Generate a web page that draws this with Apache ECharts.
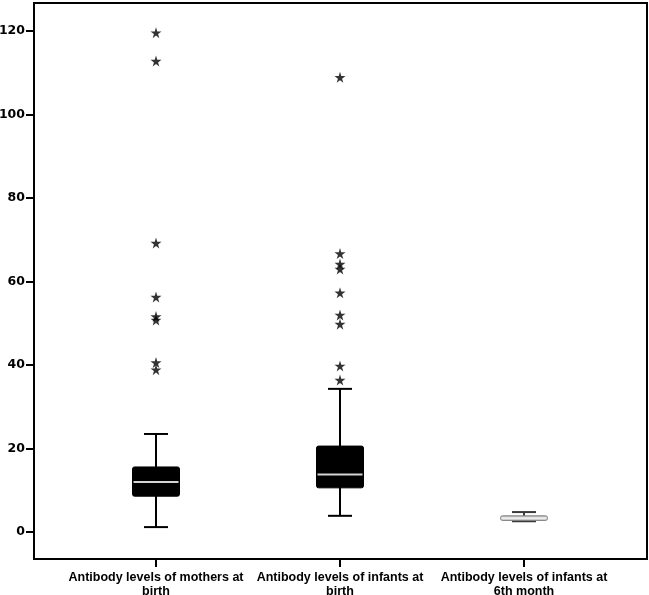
<!DOCTYPE html>
<html>
<head>
<meta charset="utf-8">
<script src="https://cdn.jsdelivr.net/npm/echarts@6/dist/echarts.min.js"></script>
<style>
  html, body { margin: 0; padding: 0; background: #fff; }
  #main { width: 649px; height: 595px; }
</style>
</head>
<body>
<div id="main"></div>
<script>
// categories along the x axis
const categories = [
  'Antibody levels of mothers at\nbirth',
  'Antibody levels of infants at\nbirth',
  'Antibody levels of infants at\n6th month'
];
// [min, Q1, median, Q3, max] for each box
const boxStats = [
  [1.2, 8.6, 12.0, 15.6, 23.5],
  [3.9, 10.6, 13.8, 20.6, 34.3],
  [2.6, 2.8, 3.3, 3.9, 4.8]
];
// extreme values (stars)
const outliersMothers = [119.6, 112.8, 69.2, 56.3, 51.6, 50.8, 40.6, 38.9];
const outliersInfants = [108.9, 66.7, 64.2, 63.0, 57.3, 52.0, 49.8, 39.8, 36.4];
const yTicks = [0, 20, 40, 60, 80, 100, 120];

const STAR = 'path://M50,0 L61,35 L98,35 L68,57 L79,91 L50,70 L21,91 L32,57 L2,35 L39,35 Z';
const yMin = -6.44, yMax = 126.7;

const chart = echarts.init(document.getElementById('main'), null, { renderer: 'canvas' });

// custom box drawing (SPSS style: narrow whisker caps)
function renderBox(params, api) {
  const i = api.value(0);
  const lo = api.coord([i, api.value(1)]);
  const q1 = api.coord([i, api.value(2)]);
  const med = api.coord([i, api.value(3)]);
  const q3 = api.coord([i, api.value(4)]);
  const hi = api.coord([i, api.value(5)]);
  const x = lo[0];
  const bw = 47, cw = 24;
  const light = i === 2;
  const line = light ? '#3a3a3a' : '#000';
  const children = [
    { type: 'line', shape: { x1: x, y1: hi[1], x2: x, y2: lo[1] }, style: { stroke: line, lineWidth: 2 } },
    { type: 'line', shape: { x1: x - cw / 2, y1: hi[1], x2: x + cw / 2, y2: hi[1] }, style: { stroke: line, lineWidth: 2 } },
    { type: 'line', shape: { x1: x - cw / 2, y1: lo[1], x2: x + cw / 2, y2: lo[1] }, style: { stroke: line, lineWidth: 2 } },
    {
      type: 'rect',
      shape: { x: x - bw / 2, y: q3[1], width: bw, height: Math.max(q1[1] - q3[1], 2), r: 2 },
      style: light ? { fill: '#c4c4c4', stroke: '#808080', lineWidth: 1 } : { fill: '#000', stroke: '#000', lineWidth: 1 }
    },
    { type: 'line', shape: { x1: x - bw / 2 + 1, y1: med[1], x2: x + bw / 2 - 1, y2: med[1] }, style: { stroke: light ? '#eeeeee' : '#d4d4d4', lineWidth: 2 } }
  ];
  return { type: 'group', children: children };
}

const option = {
  animation: false,
  grid: [
    { left: 34, right: 2, top: 3, bottom: 36, outerBoundsMode: 'none', show: true, borderColor: '#000', borderWidth: 2, backgroundColor: 'transparent' },
    { left: 64, right: 33, top: 3, bottom: 36, outerBoundsMode: 'none' }
  ],
  xAxis: [
    { gridIndex: 0, type: 'value', show: false, min: 0, max: 1 },
    {
      gridIndex: 1,
      type: 'category',
      data: categories,
      axisLine: { show: false, onZero: false },
      axisTick: { show: true, alignWithLabel: true, length: 8, lineStyle: { color: '#000', width: 2 } },
      axisLabel: {
        interval: 0,
        margin: 12,
        color: '#000',
        fontFamily: 'Liberation Sans',
        fontWeight: 'bold',
        fontSize: 12.5,
        lineHeight: 14
      },
      splitLine: { show: false }
    }
  ],
  yAxis: [
    {
      gridIndex: 0,
      type: 'value',
      min: yMin,
      max: yMax,
      axisLine: { show: false },
      axisTick: { show: true, length: 8, customValues: yTicks, lineStyle: { color: '#000', width: 2 } },
      axisLabel: {
        customValues: yTicks,
        margin: 9,
        color: '#000',
        fontFamily: 'DejaVu Sans',
        fontWeight: 'bold',
        fontSize: 12.5
      },
      splitLine: { show: false }
    },
    { gridIndex: 1, type: 'value', min: yMin, max: yMax, show: false, splitLine: { show: false } }
  ],
  series: [
    {
      type: 'custom',
      xAxisIndex: 1,
      yAxisIndex: 1,
      renderItem: renderBox,
      encode: { x: 0, y: [1, 2, 3, 4, 5] },
      data: boxStats.map((s, i) => [i].concat(s)),
      z: 2
    },
    {
      type: 'scatter',
      xAxisIndex: 1,
      yAxisIndex: 1,
      symbol: STAR,
      symbolSize: 11,
      itemStyle: { color: '#000' },
      data: outliersMothers.map(v => [0, v]).concat(outliersInfants.map(v => [1, v])),
      z: 3
    }
  ]
};

chart.setOption(option);
</script>
</body>
</html>
